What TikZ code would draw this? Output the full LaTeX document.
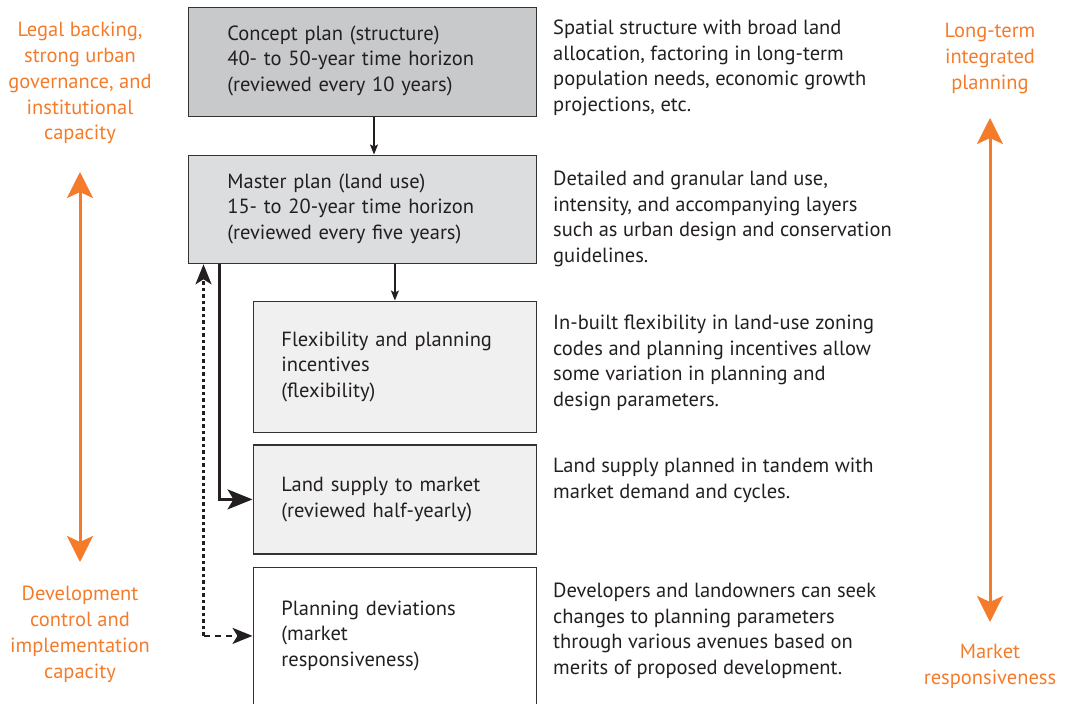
\documentclass[tikz,border=0pt]{standalone}
\usepackage{fontspec}
\setmainfont{PT Sans}
\usetikzlibrary{arrows.meta}
\definecolor{orng}{HTML}{F47B2A}
\definecolor{edge}{HTML}{333333}
\definecolor{fillA}{HTML}{C8C9CB}
\definecolor{fillB}{HTML}{DCDDDF}
\definecolor{fillC}{HTML}{F0F0F0}
\definecolor{txt}{HTML}{231F20}
\tikzset{
  box/.style={draw=edge, line width=1.8pt, anchor=north west, align=left,
    inner ysep=0pt, font=\fontsize{20.5}{25.5}\selectfont, text=txt},
  desc/.style={anchor=north west, align=left, inner sep=0pt,
    font=\fontsize{20.5}{25.5}\selectfont, text=txt},
  otext/.style={align=center, inner sep=0pt, text=orng,
    font=\fontsize{20.5}{25.8}\selectfont},
  sarrow/.style={draw=txt, line width=1.2pt, -{Stealth[length=10pt,width=8pt,inset=2pt]}},
  barrow/.style={draw=txt, line width=2.5pt, -{Stealth[length=25pt,width=20pt,inset=6pt]}},
  darrow/.style={draw=txt, line width=2.3pt, -{Stealth[length=20pt,width=16pt,inset=5pt]}},
  oarrow/.style={draw=orng, line width=3pt, {Stealth[length=26pt,width=26pt,inset=6pt]}-{Stealth[length=26pt,width=26pt,inset=6pt]}}
}
\begin{document}
\begin{tikzpicture}[x=1pt,y=-1pt]
\useasboundingbox (0,0) rectangle (1069,704);

\node[box, fill=fillA, minimum width=348pt, minimum height=109pt, text width=270pt, inner xsep=39pt] (concept) at (187.5,6.5)
  {Concept plan (structure)\\40- to 50-year time horizon\\(reviewed every 10 years)\rule[-7pt]{0pt}{1pt}};
\node[box, fill=fillB, minimum width=348pt, minimum height=108pt, text width=270pt, inner xsep=39pt] (master) at (187.5,154.5)
  {Master plan (land use)\\15- to 20-year time horizon\\(reviewed every five years)\rule[-6pt]{0pt}{1pt}};
\node[box, fill=fillC, minimum width=283pt, minimum height=131pt, text width=227pt, inner xsep=28pt] (flex) at (252.5,300.5)
  {Flexibility and planning\\incentives\\(flexibility)};
\node[box, fill=fillC, minimum width=283pt, minimum height=109pt, text width=227pt, inner xsep=28pt] (land) at (252.5,444)
  {Land supply to market\\(reviewed half-yearly)};
\node[box, fill=white, minimum width=283pt, minimum height=137pt, text width=227pt, inner xsep=28pt] (plan) at (252.5,566.5)
  {Planning deviations\\(market\\responsiveness)};

\node[desc] (d1) at (553,20) {Spatial structure with broad land\\allocation, factoring in long-term\\population needs, economic growth\\projections, etc.};
\node[desc] (d2) at (553,171) {Detailed and granular land use,\\intensity, and accompanying layers\\such as urban design and conservation\\guidelines.};
\node[desc] (d3) at (553,315) {In-built flexibility in land-use zoning\\codes and planning incentives allow\\some variation in planning and\\design parameters.};
\node[desc] (d4) at (553,458) {Land supply planned in tandem with\\market demand and cycles.};
\node[desc] (d5) at (553,583) {Developers and landowners can seek\\changes to planning parameters\\through various avenues based on\\merits of proposed development.};

\node[otext, anchor=north] (lt) at (80,22) {Legal backing,\\strong urban\\governance, and\\institutional\\capacity};
\node[otext, anchor=north] (lb) at (80,586) {Development\\control and\\implementation\\capacity};
\node[otext, anchor=north] (rt) at (990,23) {Long-term\\integrated\\planning};
\node[otext, anchor=north] (rb) at (990,644) {Market\\responsiveness};

\coordinate (la) at (80,172);
\coordinate (lb2) at (80,562);
\coordinate (ra) at (990,118);
\coordinate (rb2) at (990,622);
\draw[oarrow] (la) -- (lb2);
\draw[oarrow] (ra) -- (rb2);

\coordinate (xa) at (374,0);
\coordinate (xc) at (219.5,0);
\coordinate (xd) at (203.5,0);
\draw[sarrow] (concept.south -| xa) -- (master.north -| xa);
\draw[sarrow] (master.south -| flex.north) -- (flex.north);
\draw[barrow] (master.south -| xc) |- (land.west);
\coordinate (corner) at (xd |- plan.west);
\draw[darrow, dash pattern=on 3.5pt off 3pt] (corner) -- (master.south -| xd);
\draw[darrow, dash pattern=on 6pt off 5pt] (corner) -- (plan.west);
\end{tikzpicture}
\end{document}
